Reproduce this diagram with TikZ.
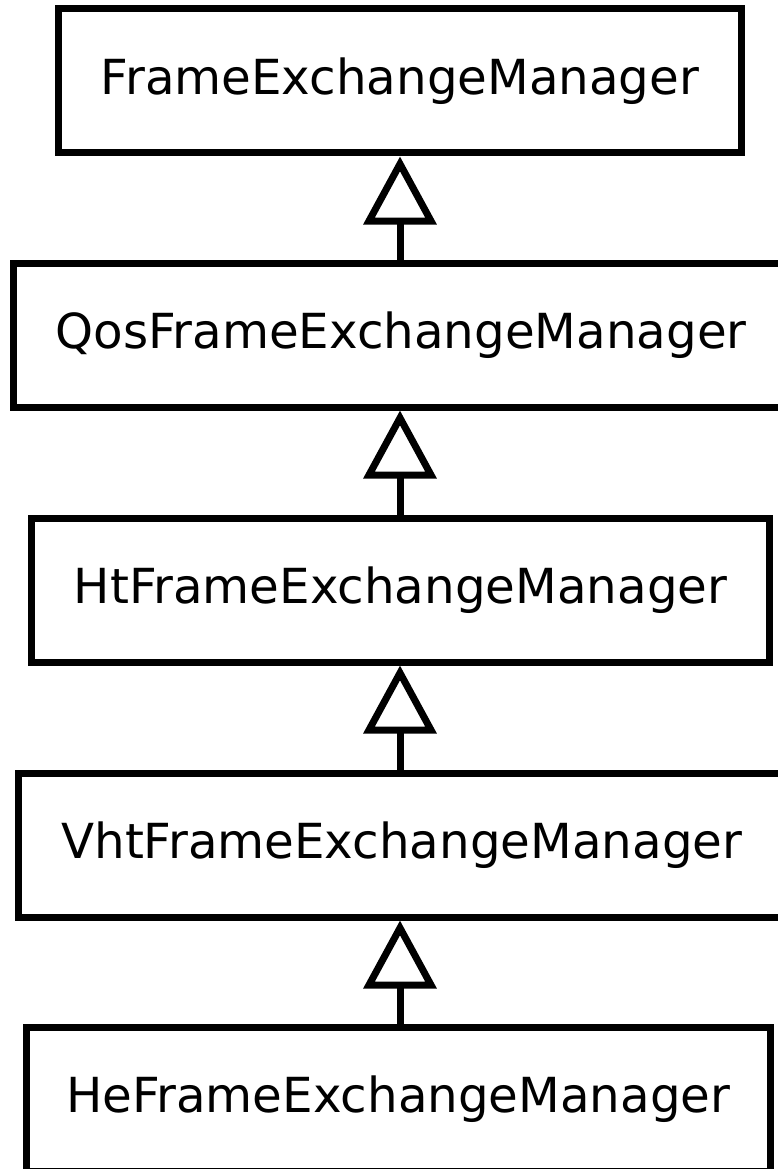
\documentclass[tikz,border=0pt]{standalone}
\usepackage{fontspec}
\setmainfont{DejaVu Sans}
\usepackage{tikz}
\usetikzlibrary{arrows.meta}

\begin{document}
\begin{tikzpicture}[x=1pt,y=-1pt,line width=7pt,
cls/.style={draw,minimum height=144pt,inner sep=0pt,font=\fontsize{48.3}{58}\selectfont},
inh/.style={-{Triangle[open,length=68pt,width=72pt,line join=miter]}}]
\useasboundingbox(0,0)rectangle(777,1169);
\node[cls,minimum width=683pt](fem)at(400,81){FrameExchangeManager};
\node[cls,minimum width=775pt](qos)at(401,335){QosFrameExchangeManager};
\node[cls,minimum width=738pt](ht)at(400.5,590){HtFrameExchangeManager};
\node[cls,minimum width=766pt](vht)at(401.75,845){VhtFrameExchangeManager};
\node[cls,minimum width=743.5pt](he)at(398.25,1099.5){HeFrameExchangeManager};
% inheritance arrows
\draw[inh](fem.south|-qos.north)--(fem.south);
\draw[inh](fem.south|-ht.north)--(fem.south|-qos.south);
\draw[inh](fem.south|-vht.north)--(fem.south|-ht.south);
\draw[inh](fem.south|-he.north)--(fem.south|-vht.south);
\end{tikzpicture}
\end{document}
